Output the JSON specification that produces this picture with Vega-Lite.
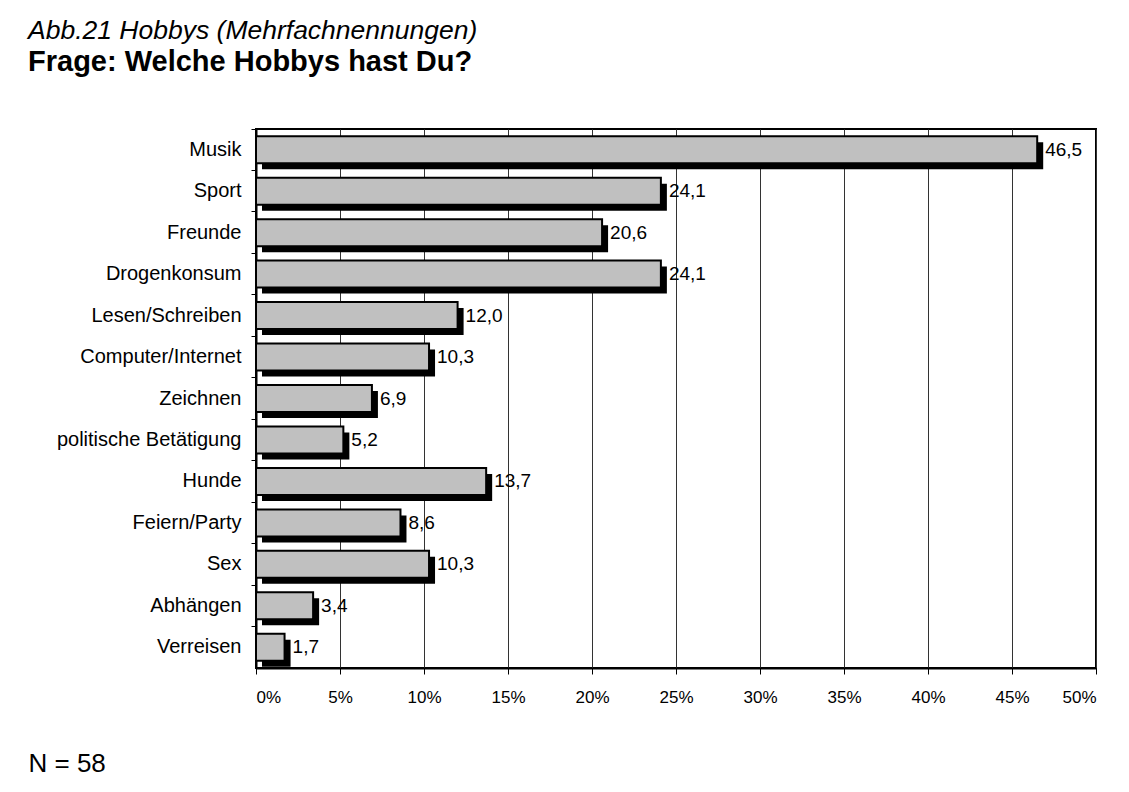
{
  "$schema": "https://vega.github.io/schema/vega-lite/v6.json",
  "width": 840,
  "height": 539,
  "autosize": {"type": "none"},
  "padding": {"left": 256, "top": 129, "right": 33, "bottom": 124},
  "background": "white",
  "config": {
    "locale": {"number": {"decimal": ",", "thousands": ".", "grouping": [3], "currency": ["", " €"]}},
    "view": {"stroke": "black", "strokeWidth": 2},
    "font": "Liberation Sans"
  },
  "title": {
    "text": "Abb.21 Hobbys (Mehrfachnennungen)",
    "subtitle": "Frage: Welche Hobbys hast Du?",
    "anchor": "start",
    "frame": "group",
    "dx": -228,
    "offset": 52,
    "font": "Liberation Sans",
    "fontSize": 26.5,
    "fontStyle": "italic",
    "fontWeight": "normal",
    "color": "black",
    "subtitleFont": "Liberation Sans",
    "subtitleFontSize": 29,
    "subtitleFontWeight": "bold",
    "subtitleColor": "black",
    "subtitlePadding": 3
  },
  "data": {
    "values": [
      {"hobby": "Musik", "value": 46.5},
      {"hobby": "Sport", "value": 24.1},
      {"hobby": "Freunde", "value": 20.6},
      {"hobby": "Drogenkonsum", "value": 24.1},
      {"hobby": "Lesen/Schreiben ", "value": 12.0},
      {"hobby": "Computer/Internet", "value": 10.3},
      {"hobby": "Zeichnen", "value": 6.9},
      {"hobby": "politische Betätigung", "value": 5.2},
      {"hobby": "Hunde", "value": 13.7},
      {"hobby": "Feiern/Party", "value": 8.6},
      {"hobby": "Sex", "value": 10.3},
      {"hobby": "Abhängen", "value": 3.4},
      {"hobby": "Verreisen", "value": 1.7}
    ]
  },
  "encoding": {
    "y": {
      "field": "hobby",
      "type": "nominal",
      "sort": null,
      "scale": {"paddingInner": 0, "paddingOuter": 0},
      "axis": {
        "title": null,
        "bandPosition": 0,
        "tickSize": 5,
        "tickColor": "black",
        "tickWidth": 1,
        "domainColor": "black",
        "domainWidth": 2,
        "labelFontSize": 20,
        "labelColor": "black",
        "labelPadding": 10,
        "labelLimit": 300
      }
    },
    "x": {
      "field": "value",
      "type": "quantitative",
      "scale": {"domain": [0, 50], "nice": false},
      "axis": {
        "values": [0, 5, 10, 15, 20, 25, 30, 35, 40, 45, 50],
        "labelExpr": "datum.value + '%'",
        "grid": true,
        "gridColor": "#333333",
        "gridWidth": 1,
        "domainColor": "black",
        "domainWidth": 2,
        "tickColor": "black",
        "tickWidth": 1,
        "tickSize": 6,
        "labelFontSize": 17,
        "labelColor": "black",
        "labelPadding": 15,
        "title": "N = 58",
        "titleX": -228,
        "titleY": 103,
        "titleAlign": "left",
        "titleBaseline": "alphabetic",
        "titleAnchor": null,
        "titleFontSize": 26,
        "titleFontWeight": "normal",
        "titleColor": "black"
      }
    }
  },
  "layer": [
    {
      "mark": {"type": "bar", "color": "black", "xOffset": 6, "yOffset": 6, "size": 27}
    },
    {
      "mark": {"type": "bar", "fill": "#C0C0C0", "stroke": "black", "strokeWidth": 2, "size": 27}
    },
    {
      "mark": {"type": "text", "align": "left", "baseline": "middle", "dx": 8, "fontSize": 19, "color": "black"},
      "encoding": {
        "text": {"field": "value", "type": "quantitative", "format": ".1f"}
      }
    }
  ]
}
